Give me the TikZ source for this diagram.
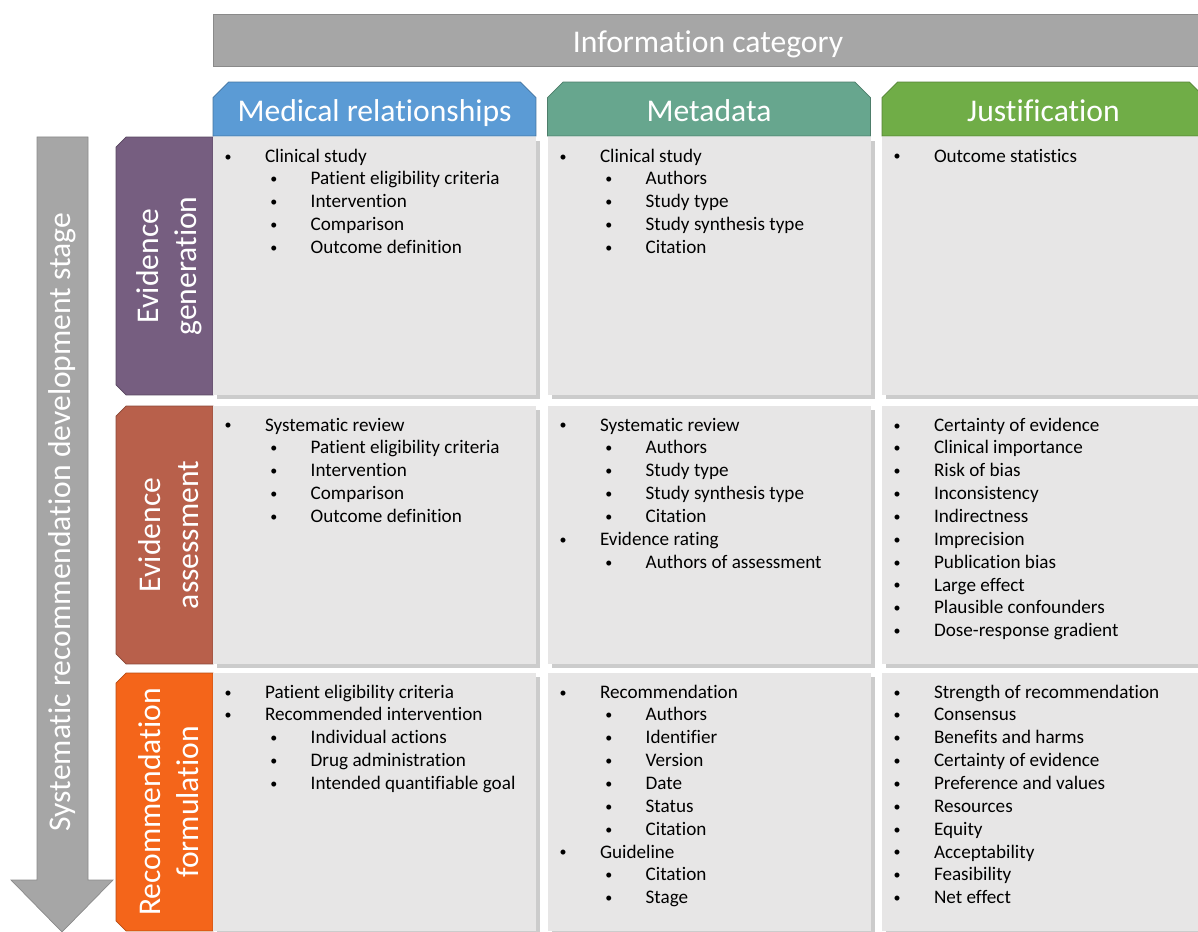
\documentclass[tikz,border=0pt]{standalone}
\usepackage{fontspec}
\setmainfont{Carlito}[Ligatures=NoCommon]
\usetikzlibrary{positioning,shapes.misc,shadows}
\definecolor{barGray}{HTML}{A6A6A6}
\definecolor{barLine}{HTML}{8A8A8A}
\definecolor{cellGray}{HTML}{E7E6E6}
\definecolor{medBlue}{HTML}{5B9BD5}
\definecolor{metaTeal}{HTML}{67A68E}
\definecolor{justGreen}{HTML}{70AD47}
\definecolor{genPurple}{HTML}{765E80}
\definecolor{assRed}{HTML}{B8604B}
\definecolor{recOrange}{HTML}{F4651A}
\newcommand\dotmark{\kern-1pt\raisebox{.6pt}{\fontsize{8}{8}\selectfont\textbullet}}
\newcommand\lone[1]{\makebox[22pt][l]{\dotmark}#1}
\newcommand\ltwo[1]{\hspace*{26pt}\makebox[22pt][l]{\dotmark}#1}

\begin{document}
\begin{tikzpicture}[x=0.02cm,y=-0.02cm,
  bigtxt/.style={text=white,font=\fontsize{18}{21.5}\selectfont},
  lowtxt/.style={bigtxt,text height=18pt,text depth=4pt},
  chamf/.style={chamfered rectangle,chamfered rectangle corners={north west,north east},
    chamfered rectangle xsep=0.2cm,inner sep=0pt,draw=#1!75!black,fill=#1},
  colhead/.style={lowtxt,chamf=#1,minimum width=6.46cm,minimum height=1.08cm},
  rowhead/.style={chamf=#1,rotate=90,minimum width=5.16cm,minimum height=1.94cm},
  rowtxt/.style={bigtxt,align=center,rotate=90},
  cell/.style={fill=cellGray,anchor=north west,inner sep=0pt,minimum width=6.46cm,minimum height=5.16cm,
    drop shadow={shadow xshift=2pt,shadow yshift=-2pt,fill=black,opacity=.2}},
  txt/.style={align=left,inner sep=0pt,font=\fontsize{10.9}{13}\selectfont}]
  \useasboundingbox (0,0) rectangle (1198,932);
  \node[lowtxt,fill=barGray,draw=barLine,minimum width=19.8cm,minimum height=1.04cm] (info) at (708,40) {Information category};
  \node[colhead=medBlue] (hmed) at (374.5,109) {Medical relationships};
  \node[colhead=metaTeal] (hmeta) at (709,109) {Metadata};
  \node[colhead=justGreen] (hjust) at (1043.5,109) {Justification};
  \draw[fill=barGray,draw=barLine] (37,137) -- (88,137) -- (88,880) -- (113,880) -- (62,932) -- (11,880) -- (37,880) -- cycle;
  \node[bigtxt,rotate=90] (stage) at (62,522) {Systematic recommendation development stage};
  \node[rowhead=genPurple] (rgen) at (164.5,266) {\strut};
  \node[rowhead=assRed] (rass) at (164.5,535) {\strut};
  \node[rowhead=recOrange] (rrec) at (164.5,802) {\strut};
  \node[rowtxt] (lgen) at (169,266) {Evidence\\generation};
  \node[rowtxt] (lass) at (169,535) {Evidence\\assessment};
  \node[rowtxt] (lrec) at (169,802) {Recommendation\\formulation};
  \node[cell] (c11) at (213,137) {};
  \node[cell] (c12) at (548,137) {};
  \node[cell] (c13) at (882,137) {};
  \node[cell] (c21) at (213,406) {};
  \node[cell] (c22) at (548,406) {};
  \node[cell] (c23) at (882,406) {};
  \node[cell] (c31) at (213,673) {};
  \node[cell] (c32) at (548,673) {};
  \node[cell] (c33) at (882,673) {};
  \node[txt,below right=0.23cm and 0.26cm of c11.north west] (t11) {\lone{Clinical study}\\\ltwo{Patient eligibility criteria}\\
    \ltwo{Intervention}\\\ltwo{Comparison}\\\ltwo{Outcome definition}};
  \node[txt,below right=0.23cm and 0.26cm of c12.north west] (t12) {\lone{Clinical study}\\\ltwo{Authors}\\
    \ltwo{Study type}\\\ltwo{Study synthesis type}\\\ltwo{Citation}};
  \node[txt,below right=0.23cm and 0.26cm of c13.north west] (t13) {\lone{Outcome statistics}};
  \node[txt,below right=0.23cm and 0.26cm of c21.north west] (t21) {\lone{Systematic review}\\\ltwo{Patient eligibility criteria}\\
    \ltwo{Intervention}\\\ltwo{Comparison}\\\ltwo{Outcome definition}};
  \node[txt,below right=0.23cm and 0.26cm of c22.north west] (t22) {\lone{Systematic review}\\\ltwo{Authors}\\
    \ltwo{Study type}\\\ltwo{Study synthesis type}\\\ltwo{Citation}\\\lone{Evidence rating}\\\ltwo{Authors of assessment}};
  \node[txt,below right=0.23cm and 0.26cm of c23.north west] (t23) {\lone{Certainty of evidence}\\\lone{Clinical importance}\\
    \lone{Risk of bias}\\\lone{Inconsistency}\\\lone{Indirectness}\\\lone{Imprecision}\\\lone{Publication bias}\\
    \lone{Large effect}\\\lone{Plausible confounders}\\\lone{Dose-response gradient}};
  \node[txt,below right=0.23cm and 0.26cm of c31.north west] (t31) {\lone{Patient eligibility criteria}\\\lone{Recommended intervention}\\
    \ltwo{Individual actions}\\\ltwo{Drug administration}\\\ltwo{Intended quantifiable goal}};
  \node[txt,below right=0.23cm and 0.26cm of c32.north west] (t32) {\lone{Recommendation}\\\ltwo{Authors}\\\ltwo{Identifier}\\
    \ltwo{Version}\\\ltwo{Date}\\\ltwo{Status}\\\ltwo{Citation}\\\lone{Guideline}\\\ltwo{Citation}\\\ltwo{Stage}};
  \node[txt,below right=0.23cm and 0.26cm of c33.north west] (t33) {\lone{Strength of recommendation}\\\lone{Consensus}\\
    \lone{Benefits and harms}\\\lone{Certainty of evidence}\\\lone{Preference and values}\\\lone{Resources}\\
    \lone{Equity}\\\lone{Acceptability}\\\lone{Feasibility}\\\lone{Net effect}};
\end{tikzpicture}
\end{document}
